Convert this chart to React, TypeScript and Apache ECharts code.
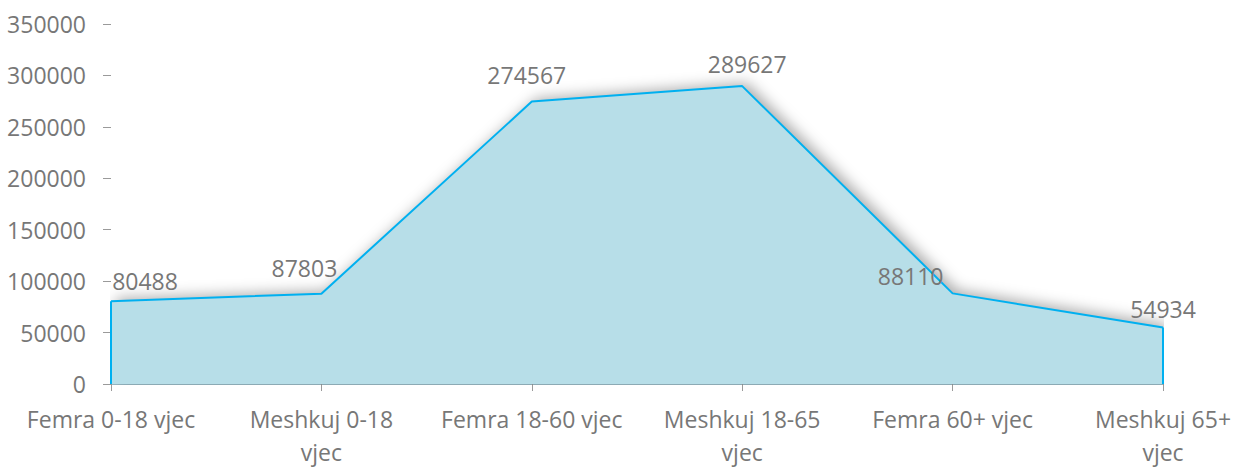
import React, { useEffect, useRef } from "react";
import * as echarts from "echarts";

const categories = [
  "Femra 0-18 vjec",
  "Meshkuj 0-18\nvjec",
  "Femra 18-60 vjec",
  "Meshkuj 18-65\nvjec",
  "Femra 60+ vjec",
  "Meshkuj 65+\nvjec",
];
const values = [80488, 87803, 274567, 289627, 88110, 54934];
const yTicks = { min: 0, max: 350000, interval: 50000 };
const labelOffsets = [
  [34, -3],
  [-17, -9],
  [-5, -10],
  [5, -5],
  [-42, 0],
  [0, -1],
];

const FONT = "'Open Sans', 'Noto Sans', sans-serif";
const GRAY = "#777777";

export default function App() {
  const ref = useRef<HTMLDivElement>(null);
  useEffect(() => {
    if (!ref.current) return;
    const chart = echarts.init(ref.current, null, { renderer: "svg" });
    const last = categories.length - 1;
    chart.setOption({
      animation: false,
      backgroundColor: "#ffffff",
      grid: { left: 111, right: 76, top: 24, bottom: 78, containLabel: false },
      xAxis: {
        type: "category",
        data: categories,
        boundaryGap: false,
        axisLine: { show: true, lineStyle: { color: "#7aa7b6", width: 1.5 } },
        axisTick: { show: true, length: 7, lineStyle: { color: "#9a9a9a", width: 1 } },
        axisLabel: {
          color: GRAY,
          fontFamily: FONT,
          fontSize: 23,
          lineHeight: 33,
          margin: 18,
          interval: 0,
        },
        splitLine: { show: false },
      },
      yAxis: {
        type: "value",
        min: yTicks.min,
        max: yTicks.max,
        interval: yTicks.interval,
        axisLine: { show: false },
        axisTick: { show: true, length: 8, inside: false, lineStyle: { color: "#9a9a9a" } },
        axisLabel: {
          color: GRAY,
          fontFamily: FONT,
          fontSize: 23,
          margin: 25,
          formatter: (v: number) => String(v),
        },
        splitLine: { show: false },
      },
      series: [
        {
          type: "line",
          data: values.map((v, i) => ({
            value: v,
            label: { offset: labelOffsets[i] },
          })),
          symbol: "circle",
          symbolSize: 1,
          showSymbol: true,
          itemStyle: { opacity: 0 },
          lineStyle: { color: "#00b0f0", width: 2 },
          areaStyle: {
            color: "#b7dee8",
            opacity: 1,
            shadowBlur: 14,
            shadowColor: "rgba(0,0,0,0.32)",
            shadowOffsetX: 5,
            shadowOffsetY: -3,
          },
          label: {
            show: true,
            position: "top",
            distance: 5,
            color: GRAY,
            fontFamily: FONT,
            fontSize: 23,
            opacity: 1,
          },
          markLine: {
            silent: true,
            symbol: "none",
            label: { show: false },
            lineStyle: { color: "#00b0f0", width: 2, type: "solid" },
            data: [
              [
                { coord: [categories[0], 0] },
                { coord: [categories[0], values[0]] },
              ],
              [
                { coord: [categories[last], 0] },
                { coord: [categories[last], values[last]] },
              ],
            ],
          },
          z: 2,
        },
      ],
    });
    return () => chart.dispose();
  }, []);
  return (
    <div
      ref={ref}
      style={{ position: "fixed", left: 0, top: 0, width: 1239, height: 468 }}
    />
  );
}
